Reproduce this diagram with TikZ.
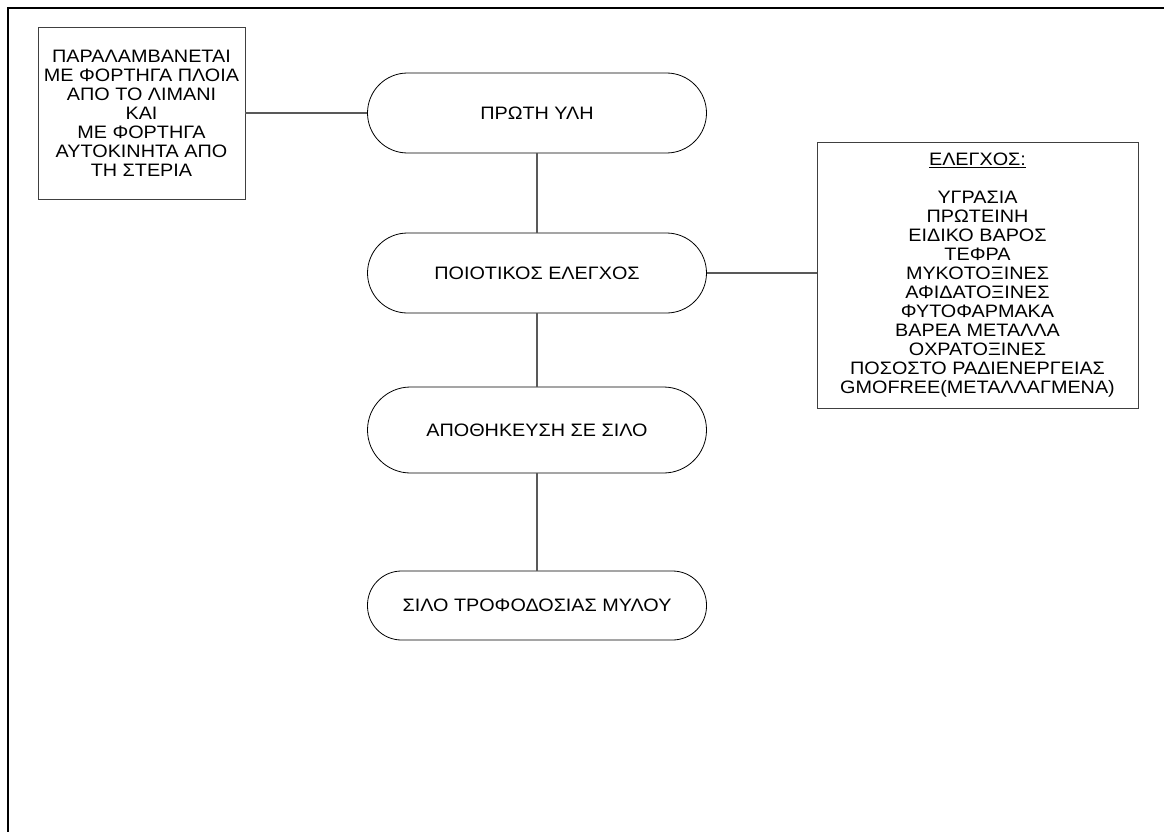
\documentclass[tikz,border=0pt]{standalone}
\usepackage{fontspec}
\setmainfont{Liberation Sans}[FakeStretch=1.1]
\newcommand\mytightfont{\fontsize{18}{19}\selectfont\lineskiplimit=-20pt\relax\lineskip=0pt\relax}
\begin{document}
\begin{tikzpicture}[x=1pt,y=-1pt,
  txt/.style={font=\mytightfont, align=center, inner sep=0pt},
  term/.style={draw=black, line width=0.8pt, rectangle, rounded corners=#1, minimum width=339pt, txt},
  infobox/.style={draw=black!75, line width=0.9pt, rectangle, txt},
  link/.style={draw=black!65, line width=1.2pt}]
\useasboundingbox (0,0) rectangle (1164,832);
\draw[line width=2pt] (8,833) -- (8,8) -- (1165,8);
% left box
\node[infobox, minimum width=207pt, minimum height=172pt] (src) at (141.5,113)
  {ΠΑΡΑΛΑΜΒΑΝΕΤΑΙ\\ΜΕ ΦΟΡΤΗΓΑ ΠΛΟΙΑ\\ΑΠΟ ΤΟ ΛΙΜΑΝΙ\\ΚΑΙ\\ΜΕ ΦΟΡΤΗΓΑ\\ΑΥΤΟΚΙΝΗΤΑ ΑΠΟ\\ΤΗ ΣΤΕΡΙΑ};
% terminals
\node[term=40pt, minimum height=80pt] (t1) at (537,113) {ΠΡΩΤΗ ΥΛΗ};
\node[term=40pt, minimum height=80pt] (t2) at (537,273) {ΠΟΙΟΤΙΚΟΣ ΕΛΕΓΧΟΣ};
\node[term=43pt, minimum height=86pt] (t3) at (537,430) {ΑΠΟΘΗΚΕΥΣΗ ΣΕ ΣΙΛΟ};
\node[term=34pt, minimum height=69pt] (t4) at (537,605.5) {ΣΙΛΟ ΤΡΟΦΟΔΟΣΙΑΣ ΜΥΛΟΥ};
% right box
\node[infobox, minimum width=321pt, minimum height=266pt] (chk) at (977.5,275)
  {\underline{ΕΛΕΓΧΟΣ:}\\[19pt]ΥΓΡΑΣΙΑ\\ΠΡΩΤΕΙΝΗ\\ΕΙΔΙΚΟ ΒΑΡΟΣ\\ΤΕΦΡΑ\\ΜΥΚΟΤΟΞΙΝΕΣ\\ΑΦΙΔΑΤΟΞΙΝΕΣ\\ΦΥΤΟΦΑΡΜΑΚΑ\\ΒΑΡΕΑ ΜΕΤΑΛΛΑ\\ΟΧΡΑΤΟΞΙΝΕΣ\\ΠΟΣΟΣΤΟ ΡΑΔΙΕΝΕΡΓΕΙΑΣ\\GMOFREE(ΜΕΤΑΛΛΑΓΜΕΝΑ)};
% connectors
\draw[link] (src.east) -- (t1.west);
\draw[link] (t1.south) -- (t2.north);
\draw[link] (t2.south) -- (t3.north);
\draw[link] (t3.south) -- (t4.north);
\draw[link] (t2.east) -- (chk.west |- t2.east);
\end{tikzpicture}
\end{document}
